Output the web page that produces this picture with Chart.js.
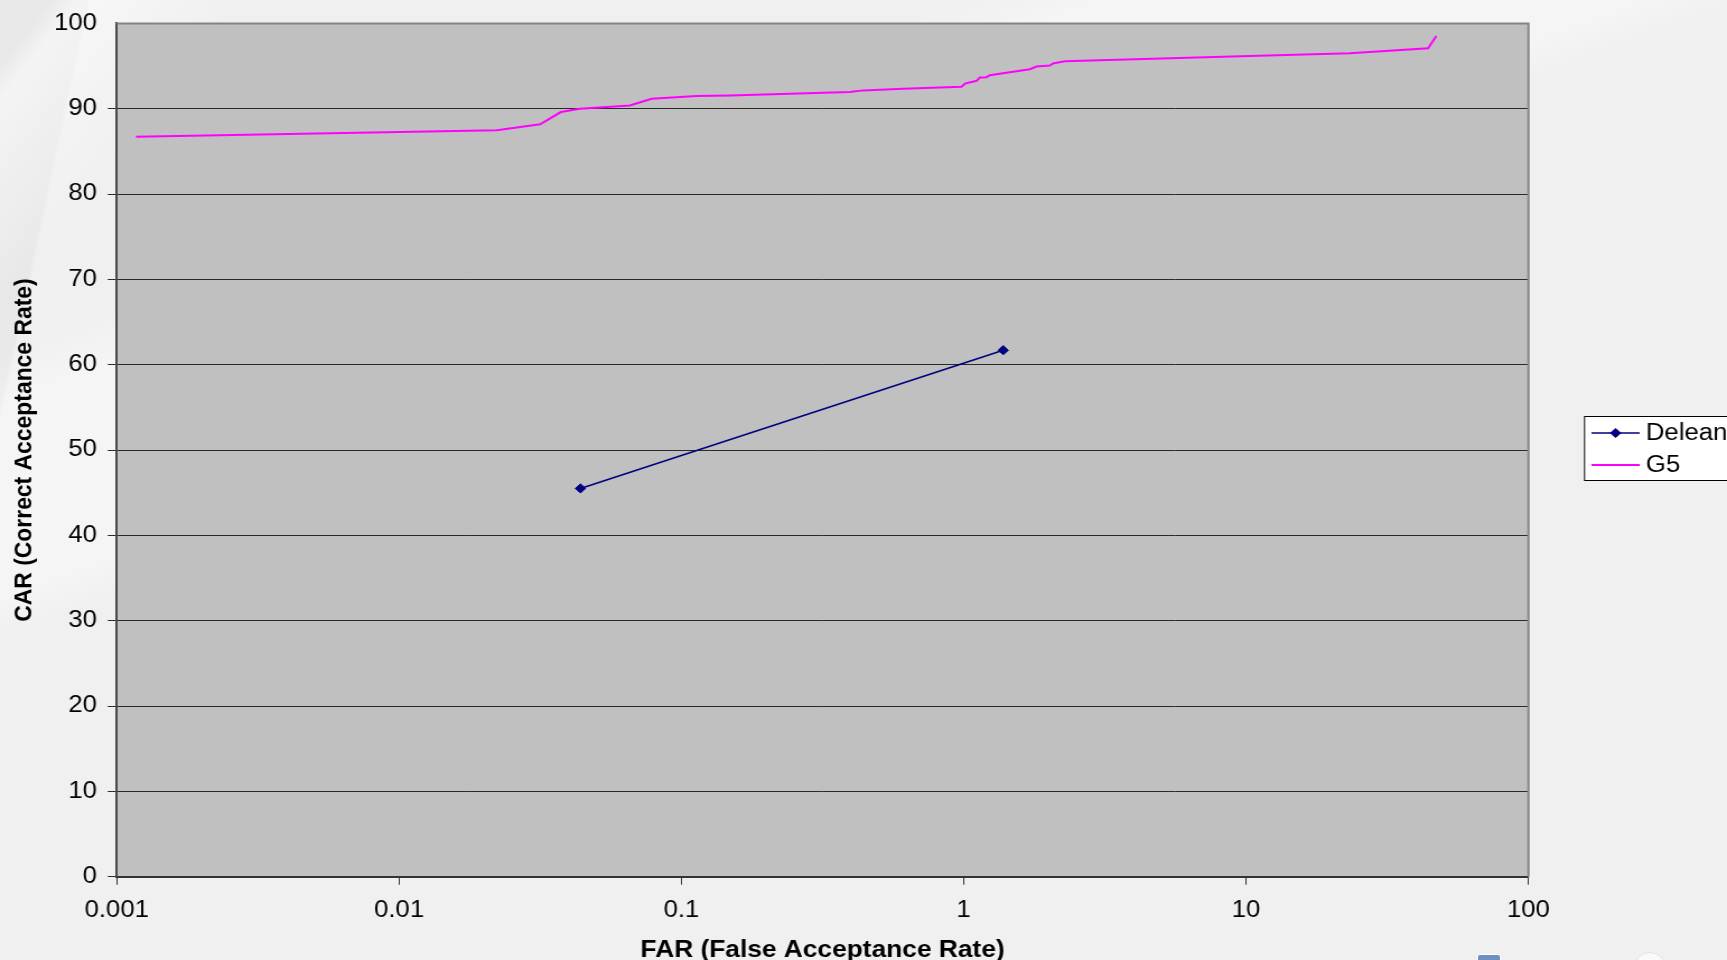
<!DOCTYPE html>
<html>
<head>
<meta charset="utf-8">
<title>CAR vs FAR</title>
<script src="https://cdn.jsdelivr.net/npm/chart.js@4"></script>
<style>
  html, body { margin: 0; padding: 0; }
  body {
    width: 1727px; height: 960px; overflow: hidden;
    background:
      linear-gradient(128deg, rgba(255,255,255,0) 0px, rgba(255,255,255,0) 40px, rgba(255,255,255,0.5) 62px, rgba(255,255,255,0) 190px),
      linear-gradient(160deg, rgba(255,255,255,0) 330px, rgba(255,255,255,0.35) 380px, rgba(255,255,255,0.35) 560px, rgba(255,255,255,0) 600px),
      linear-gradient(102deg, rgba(0,0,0,0.03) 0%, rgba(0,0,0,0.03) 4.5%, rgba(0,0,0,0) 4.7%),
      #f0f0f0;
  }
  #wrap { position: relative; width: 1727px; height: 960px; }
  canvas { display: block; }
  .nav1 { position: absolute; left: 1477px; top: 954px; width: 22px; height: 14px; border-radius: 3px;
          background: #6f8fc4; border: 1px solid #ffffff; }
  .nav2 { position: absolute; left: 1634px; top: 952px; width: 30px; height: 30px; border-radius: 50%;
          background: #fafafa; border: 1px solid #e2e2e2; }
</style>
</head>
<body>
<div id="wrap">
  <canvas id="chart" width="1542" height="960" style="width:1727px;height:960px"></canvas>
  <div class="nav1"></div>
  <div class="nav2"></div>
</div>
<script>
// False acceptance rate (%) and correct acceptance rate (%) per method
const deleanFar = [0.0439, 1.38];
const deleanCar = [45.5, 61.7];

const g5Far = [0.00117, 0.0222, 0.0316, 0.0374, 0.0437, 0.0657, 0.0784, 0.113, 0.1485,
               0.395, 0.440, 0.610, 0.982, 1.01, 1.11, 1.14, 1.205, 1.237, 1.455,
               1.713, 1.81, 2.02, 2.07, 2.28, 3.03, 10.3, 23.3, 44.1, 47.2];
const g5Car = [86.73, 87.47, 88.17, 89.61, 90.0, 90.39, 91.16, 91.48, 91.56,
               91.95, 92.15, 92.33, 92.57, 92.95, 93.27, 93.66, 93.70, 93.93, 94.28,
               94.63, 94.95, 95.06, 95.30, 95.56, 95.68, 96.18, 96.5, 97.08, 98.52];

const xTickValues = [0.001, 0.01, 0.1, 1, 10, 100];
const xTickLabels = ['0.001', '0.01', '0.1', '1', '10', '100'];
const seriesNames = ['Delean', 'G5'];

const xTitle = 'FAR (False Acceptance Rate)';
const yTitle = 'CAR (Correct Acceptance Rate)';

const FONT = "'Liberation Sans', Arial, sans-serif";
const NAVY = '#000080';
const MAGENTA = '#ff00ff';

const toPoints = (xs, ys) => xs.map((x, i) => ({ x: x, y: ys[i] }));

// Grey plot background plus the grey top/right frame of the plot area
const plotFrame = {
  id: 'plotFrame',
  beforeDraw(chart) {
    const { ctx, chartArea: a } = chart;
    ctx.save();
    ctx.fillStyle = '#c0c0c0';
    ctx.fillRect(a.left, a.top, a.right - a.left, a.bottom - a.top);
    ctx.restore();
  },
  afterDatasetsDraw(chart) {
    const { ctx, chartArea: a } = chart;
    ctx.save();
    ctx.strokeStyle = '#848484';
    ctx.lineWidth = 2;
    ctx.beginPath();
    ctx.moveTo(a.left, a.top);
    ctx.lineTo(a.right, a.top);
    ctx.lineTo(a.right, a.bottom);
    ctx.stroke();
    ctx.restore();
  }
};

// Boxed legend on the right, running past the right edge of the page
const sideLegend = {
  id: 'sideLegend',
  afterDraw(chart) {
    const { ctx } = chart;
    const left = 1414.3, top = 416, bottom = 480;
    const rows = [433, 465];
    ctx.save();
    ctx.fillStyle = '#ffffff';
    ctx.fillRect(left, top, 200, bottom - top);
    ctx.strokeStyle = '#000000';
    ctx.lineWidth = 1;
    ctx.strokeRect(left + 0.5, top + 0.5, 200, bottom - top);
    const ds = chart.data.datasets;
    ds.forEach((d, i) => {
      const y = rows[i];
      ctx.strokeStyle = d.borderColor;
      ctx.lineWidth = d.borderWidth;
      ctx.beginPath();
      ctx.moveTo(1421, y);
      ctx.lineTo(1464, y);
      ctx.stroke();
      if (d.pointRadius > 0) {
        ctx.fillStyle = d.pointBackgroundColor;
        ctx.beginPath();
        const r = d.pointRadius + 0.5;
        ctx.moveTo(1442.5 - r, y);
        ctx.lineTo(1442.5, y - r);
        ctx.lineTo(1442.5 + r, y);
        ctx.lineTo(1442.5, y + r);
        ctx.closePath();
        ctx.fill();
      }
      ctx.fillStyle = '#000000';
      ctx.font = '23px ' + FONT;
      ctx.textBaseline = 'middle';
      ctx.textAlign = 'left';
      ctx.fillText(seriesNames[i], 1469.5, y + 1);
    });
    ctx.restore();
  }
};

new Chart(document.getElementById('chart'), {
  type: 'line',
  data: {
    datasets: [
      {
        label: seriesNames[0],
        data: toPoints(deleanFar, deleanCar),
        borderColor: NAVY,
        backgroundColor: NAVY,
        borderWidth: 1.6,
        pointStyle: 'rectRot',
        pointRadius: 4.6,
        pointBorderWidth: 1,
        pointBackgroundColor: NAVY,
        pointBorderColor: NAVY,
        tension: 0,
        fill: false
      },
      {
        label: seriesNames[1],
        data: toPoints(g5Far, g5Car),
        borderColor: MAGENTA,
        backgroundColor: MAGENTA,
        borderWidth: 2,
        pointRadius: 0,
        tension: 0,
        fill: false
      }
    ]
  },
  plugins: [plotFrame, sideLegend],
  options: {
    responsive: false,
    devicePixelRatio: 1,
    animation: false,
    layout: { padding: { left: 0, top: 20, right: 177.3, bottom: 0 } },
    plugins: {
      legend: { display: false },
      tooltip: { enabled: false },
      title: { display: false }
    },
    scales: {
      x: {
        type: 'logarithmic',
        position: 'bottom',
        min: 0.001,
        max: 100,
        afterFit(scale) { scale.height = 83.3; },
        afterBuildTicks(scale) {
          scale.ticks = xTickValues.map(v => ({ value: v, major: true }));
        },
        ticks: {
          autoSkip: false,
          maxRotation: 0,
          color: '#000000',
          font: { family: FONT, size: 23 },
          padding: 12.5,
          callback: (v, i) => xTickLabels[i]
        },
        grid: {
          drawOnChartArea: false,
          drawTicks: true,
          tickLength: 8,
          color: '#333333',
          lineWidth: 1
        },
        border: { display: true, color: '#333333', width: 2 },
        title: {
          display: true,
          text: xTitle,
          color: '#000000',
          font: { family: FONT, size: 23.5, weight: 'bold', lineHeight: 0.82 },
          padding: { top: 0, bottom: 0 }
        }
      },
      y: {
        type: 'linear',
        position: 'left',
        min: 0,
        max: 100,
        afterFit(scale) { scale.width = 104.2; },
        ticks: {
          stepSize: 10,
          color: '#000000',
          font: { family: FONT, size: 23 },
          padding: 9.6
        },
        grid: {
          drawOnChartArea: true,
          drawTicks: true,
          tickLength: 8,
          color: (c) => (c.tick && c.tick.value === 100 ? 'rgba(0,0,0,0)' : '#2a2a2a'),
          lineWidth: 1
        },
        border: { display: true, color: '#4a4a4a', width: 2 },
        title: {
          display: true,
          text: yTitle,
          color: '#000000',
          font: { family: FONT, size: 22.9, weight: 'bold', lineHeight: 1 },
          padding: { top: 10, bottom: 10 }
        }
      }
    }
  }
});
</script>
</body>
</html>
